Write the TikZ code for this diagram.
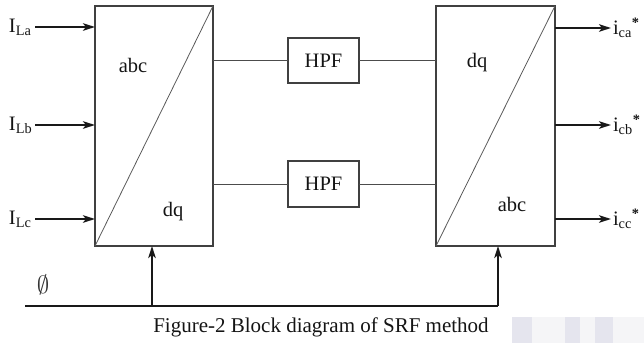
\documentclass[tikz,border=0pt]{standalone}
\usepackage{fontspec}
\setmainfont{Liberation Serif}
\usetikzlibrary{arrows.meta}
\newcommand{\strstar}{\textsuperscript{\bfseries *}}
\begin{document}
\begin{tikzpicture}[x=1pt,y=-1pt,
  every node/.style={inner sep=0pt,outer sep=0pt,font=\fontsize{20.5}{24}\selectfont,text=black!92},
  conv/.style={draw=black!75,line width=1.2pt,minimum width=118pt,minimum height=240pt},
  filt/.style={draw=black!75,line width=1.1pt,minimum width=71pt,minimum height=45pt},
  wire/.style={draw=black!70,line width=0.9pt},
  diag/.style={draw=black!65,line width=0.8pt},
  arr/.style={draw=black!90,line width=2pt,-{Stealth[length=12pt,width=7.5pt,inset=3pt]}},
  bus/.style={draw=black!90,line width=2.2pt},
  wm/.style={fill=blue!35!black!10,draw=none},
  wml/.style={fill=blue!20!black!4,draw=none}]
\useasboundingbox (0,0) rectangle (644,343);
% faint watermark
\fill[wml] (532,317) rectangle (644,343);
\fill[wm] (512,317) rectangle (532,343);
\fill[wm] (565,317) rectangle (580,343);
\fill[wm] (595,317) rectangle (613,343);
% blocks
\node[conv] (L) at (154,126) {};
\node[conv,minimum width=119pt] (R) at (495.5,126) {};
\draw[diag] (L.south west) -- (L.north east);
\draw[diag] (R.south west) -- (R.north east);
\node (Labc) at (133,65) {abc};
\node (Ldq) at (173,212) {dq};
\node (Rdq) at (477,63) {dq};
\node (Rabc) at (512,204) {abc};
\node[filt] (H1) at (323.5,60.5) {HPF};
\node[filt,minimum height=46pt] (H2) at (323.5,184) {HPF};
\draw[wire] (L.east |- H1.west) -- (H1.west);
\draw[wire] (H1.east) -- (H1.east -| R.west);
\draw[wire] (L.east |- H2.west) -- (H2.west);
\draw[wire] (H2.east) -- (H2.east -| R.west);
% inputs
\node[anchor=west] (la) at (9,27) {I\textsubscript{La}};
\node[anchor=west] (lb) at (9,125) {I\textsubscript{Lb}};
\node[anchor=west] (lc) at (9,219) {I\textsubscript{Lc}};
\coordinate (ia) at (35,27);
\coordinate (ib) at (35,125);
\coordinate (ic) at (35,219);
\draw[arr] (ia) -- (ia -| L.west);
\draw[arr] (ib) -- (ib -| L.west);
\draw[arr] (ic) -- (ic -| L.west);
% outputs
\coordinate (oa) at (611,28);
\coordinate (ob) at (611,125);
\coordinate (oc) at (611,219);
\draw[arr] (oa -| R.east) -- (oa);
\draw[arr] (ob -| R.east) -- (ob);
\draw[arr] (oc -| R.east) -- (oc);
\node[anchor=west] (ca) at (613,28) {i\textsubscript{ca}\strstar};
\node[anchor=west] (cb) at (613,125) {i\textsubscript{cb}\strstar};
\node[anchor=west] (cc) at (613,219) {i\textsubscript{cc}\strstar};
% angle bus
\coordinate (b0) at (25,306);
\coordinate (b1) at (152,306);
\coordinate (b2) at (498,306);
\node[font=\fontsize{23}{26}\selectfont,text=black!80] (phi) at (43,285) {$\emptyset$};
\draw[bus] (b0) -- (b2);
\draw[arr] (b1) -- (b1 |- L.south);
\draw[arr] (b2) -- (b2 |- R.south);
% caption
\node (cap) at (321,327) {\fontsize{21}{24}\selectfont Figure-2 Block diagram of SRF method};
\end{tikzpicture}
\end{document}
